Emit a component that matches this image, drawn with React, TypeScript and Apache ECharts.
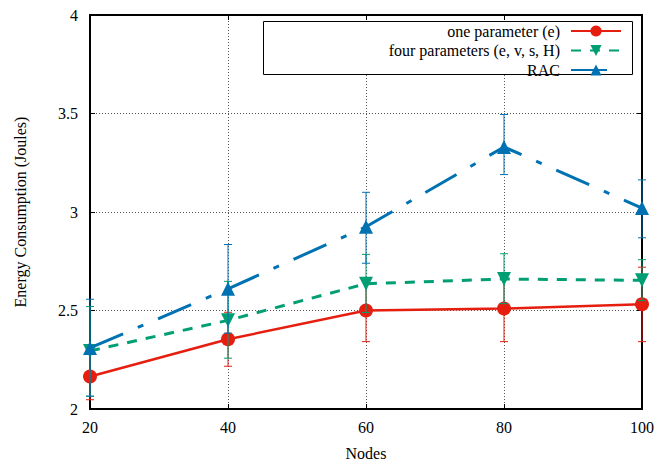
import React, { useEffect, useRef } from "react";
import * as echarts from "echarts";

const nodes = [20, 40, 60, 80, 100];

const oneParam = [2.165, 2.354, 2.5, 2.51, 2.532];
const oneParamLow = [2.047, 2.217, 2.342, 2.342, 2.342];
const oneParamHigh = [2.283, 2.491, 2.66, 2.68, 2.72];

const fourParam = [2.295, 2.45, 2.636, 2.66, 2.653];
const fourParamLow = [2.065, 2.258, 2.49, 2.535, 2.55];
const fourParamHigh = [2.52, 2.648, 2.785, 2.788, 2.758];

const rac = [2.31, 2.61, 2.925, 3.33, 3.02];
const racLow = [2.065, 2.385, 2.74, 3.19, 2.869];
const racHigh = [2.557, 2.835, 3.1, 3.495, 3.163];

const seriesNames = ["one parameter (e)", "four parameters (e, v, s, H)", "RAC"];
const colors = ["#e51e10", "#009e73", "#0072b2"];

const FONT = "'Liberation Serif', 'Times New Roman', serif";

function errorSeries(name: string, color: string, low: number[], high: number[], z: number) {
  return {
    type: "custom",
    name: name + " err",
    z,
    silent: true,
    clip: false,
    data: nodes.map((n, i) => [n, low[i], high[i]]),
    encode: { x: 0, y: [1, 2] },
    renderItem: (params: any, api: any) => {
      const x = api.value(0);
      const lo = api.coord([x, api.value(1)]);
      const hi = api.coord([x, api.value(2)]);
      const w = 4;
      const style = { stroke: color, lineWidth: 1 };
      return {
        type: "group",
        children: [
          { type: "line", shape: { x1: lo[0], y1: lo[1], x2: hi[0], y2: hi[1] }, style },
          { type: "line", shape: { x1: lo[0] - w, y1: lo[1], x2: lo[0] + w, y2: lo[1] }, style },
          { type: "line", shape: { x1: hi[0] - w, y1: hi[1], x2: hi[0] + w, y2: hi[1] }, style },
        ],
      };
    },
  };
}

function lineSeries(name: string, color: string, values: number[], symbol: string, dash: any, width: number, z: number, size: number, rotate = 0) {
  return {
    type: "line",
    name,
    z,
    clip: false,
    data: nodes.map((n, i) => [n, values[i]]),
    symbol,
    symbolSize: size,
    symbolRotate: rotate,
    showAllSymbol: true,
    itemStyle: { color },
    lineStyle: { color, width, type: dash },
  };
}

export default function App() {
  const ref = useRef<HTMLDivElement>(null);

  useEffect(() => {
    document.body.style.margin = "0";
    if (!ref.current) return;
    const chart = echarts.init(ref.current, null, { renderer: "svg" });
    const axisLabelStyle = { color: "#000", fontFamily: FONT, fontSize: 16 };
    const splitLine = { show: true, lineStyle: { color: "#555", width: 1, type: [1, 2] as any } };
    chart.setOption({
      animation: false,
      backgroundColor: "#fff",
      textStyle: { fontFamily: FONT },
      grid: { left: 90, right: 17, top: 15, bottom: 55, show: true, borderColor: "#000", borderWidth: 1.5 },
      xAxis: [
        {
          type: "value",
          min: 20,
          max: 100,
          interval: 20,
          name: "Nodes",
          nameLocation: "middle",
          nameGap: 36,
          nameTextStyle: { color: "#000", fontFamily: FONT, fontSize: 16 },
          axisLine: { show: true, lineStyle: { color: "#000", width: 2 } },
          axisTick: { show: true, inside: true, length: 5, lineStyle: { color: "#000" } },
          axisLabel: { ...axisLabelStyle, margin: 10 },
          splitLine,
        },
        {
          type: "value",
          position: "top",
          min: 20,
          max: 100,
          interval: 20,
          axisLine: { show: true, lineStyle: { color: "#000", width: 2 } },
          axisTick: { show: true, inside: true, length: 5, lineStyle: { color: "#000" } },
          axisLabel: { show: false },
          splitLine: { show: false },
        },
      ],
      yAxis: [
        {
          type: "value",
          min: 2,
          max: 4,
          interval: 0.5,
          name: "Energy Consumption (Joules)",
          nameLocation: "middle",
          nameGap: 62,
          nameTextStyle: { color: "#000", fontFamily: FONT, fontSize: 16 },
          axisLine: { show: true, lineStyle: { color: "#000", width: 2 } },
          axisTick: { show: true, inside: true, length: 5, lineStyle: { color: "#000" } },
          axisLabel: { ...axisLabelStyle, margin: 12 },
          splitLine,
        },
        {
          type: "value",
          position: "right",
          min: 2,
          max: 4,
          interval: 0.5,
          axisLine: { show: true, lineStyle: { color: "#000", width: 2 } },
          axisTick: { show: true, inside: true, length: 5, lineStyle: { color: "#000" } },
          axisLabel: { show: false },
          splitLine: { show: false },
        },
      ],
      graphic: [
        {
          type: "rect",
          z: 3,
          shape: { x: 263.5, y: 21.5, width: 369, height: 53 },
          style: { fill: "#fff", stroke: "#000", lineWidth: 1 },
        },
      ],
      legend: {
        z: 5,
        orient: "vertical",
        right: 37,
        top: 23,
        align: "right",
        padding: 0,
        itemWidth: 50,
        itemHeight: 14,
        itemGap: 3.5,
        data: seriesNames,
        textStyle: { color: "#000", fontFamily: FONT, fontSize: 16, padding: [0, 6, 0, 0] },
      },
      series: [
        errorSeries(seriesNames[0], colors[0], oneParamLow, oneParamHigh, 1),
        lineSeries(seriesNames[0], colors[0], oneParam, "circle", "solid", 2.5, 2, 14),
        errorSeries(seriesNames[1], colors[1], fourParamLow, fourParamHigh, 3),
        lineSeries(seriesNames[1], colors[1], fourParam, "triangle", [10, 9], 3, 4, 14, 180),
        errorSeries(seriesNames[2], colors[2], racLow, racHigh, 5),
        lineSeries(seriesNames[2], colors[2], rac, "triangle", [36, 16, 6, 16], 3, 6, 14),
      ],
    });
    return () => chart.dispose();
  }, []);

  return <div ref={ref} style={{ width: 659, height: 466 }} />;
}
